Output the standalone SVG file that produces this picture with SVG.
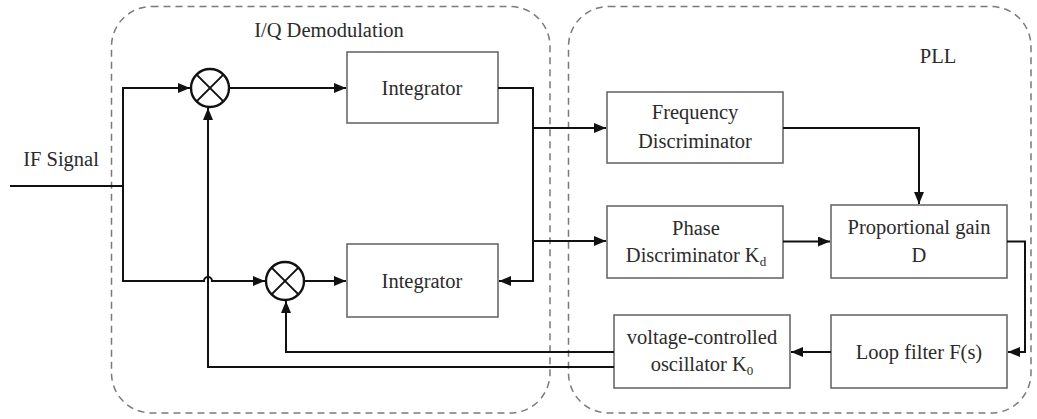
<svg xmlns="http://www.w3.org/2000/svg" width="1037" height="419" viewBox="0 0 1037 419">
<defs>
<marker id="arr" markerUnits="userSpaceOnUse" markerWidth="13" markerHeight="10" refX="12" refY="5" orient="auto">
<path d="M0,0 L12,5 L0,10 z" fill="#111"/>
</marker>
<style>
.grp{fill:none;stroke:#7a7a7a;stroke-width:1.5;stroke-dasharray:7 5}
.box{fill:#fff;stroke:#6a6a6a;stroke-width:1.6}
.mix{fill:#fff;stroke:#111;stroke-width:2.4}
.x{stroke:#111;stroke-width:2}
.w{fill:none;stroke:#111;stroke-width:2}
.t{font-size:20.5px;fill:#2b2b2b;text-anchor:middle}
.sub{font-size:13px}
</style>
</defs>
<rect width="1037" height="419" fill="#fff"/>
<g font-family="Liberation Serif, serif">
<g id="group-iq">
<rect class="grp" x="111.5" y="6.5" width="438.5" height="406.5" rx="40" ry="40"/>
<text class="t" x="329" y="37">I/Q Demodulation</text>
</g>
<g id="group-pll">
<rect class="grp" x="568.5" y="6.5" width="462.5" height="406.5" rx="40" ry="40"/>
<text class="t" x="938" y="63">PLL</text>
</g>
<g id="if-label">
<text class="t" x="61" y="166">IF Signal</text>
</g>
<g id="mixer-i">
<circle class="mix" cx="210" cy="88" r="19"/>
<line class="x" x1="196.6" y1="74.6" x2="223.4" y2="101.4"/>
<line class="x" x1="223.4" y1="74.6" x2="196.6" y2="101.4"/>
</g>
<g id="mixer-q">
<circle class="mix" cx="285" cy="281" r="19"/>
<line class="x" x1="271.6" y1="267.6" x2="298.4" y2="294.4"/>
<line class="x" x1="298.4" y1="267.6" x2="271.6" y2="294.4"/>
</g>
<g id="integrator-i">
<rect class="box" x="347" y="52" width="151" height="71"/>
<text class="t" x="422" y="95">Integrator</text>
</g>
<g id="integrator-q">
<rect class="box" x="347" y="244" width="151" height="73"/>
<text class="t" x="422" y="288">Integrator</text>
</g>
<g id="freq-disc">
<rect class="box" x="607" y="92" width="176" height="71"/>
<text class="t" x="695" y="119">Frequency</text>
<text class="t" x="695" y="148">Discriminator</text>
</g>
<g id="phase-disc">
<rect class="box" x="607" y="206" width="176" height="72"/>
<text class="t" x="696" y="235">Phase</text>
<text class="t" x="696" y="262">Discriminator K<tspan class="sub" dy="4">d</tspan></text>
</g>
<g id="prop-gain">
<rect class="box" x="831" y="205" width="176" height="73"/>
<text class="t" x="919" y="234">Proportional gain</text>
<text class="t" x="919" y="262">D</text>
</g>
<g id="loop-filter">
<rect class="box" x="831" y="315" width="176" height="73"/>
<text class="t" x="919" y="359">Loop filter F(s)</text>
</g>
<g id="vco">
<rect class="box" x="614" y="315" width="176" height="73"/>
<text class="t" x="702" y="344">voltage-controlled</text>
<text class="t" x="702" y="371">oscillator K<tspan class="sub" dy="4">0</tspan></text>
</g>
</g>
<g id="connectors">
<path class="w" d="M10,186 H123 V88 H190" marker-end="url(#arr)"/>
<path class="w" d="M123,186 V281 H204 a4,4 0 0 1 8,0 H265" marker-end="url(#arr)"/>
<path class="w" d="M229,88 H346" marker-end="url(#arr)"/>
<path class="w" d="M304,281 H346" marker-end="url(#arr)"/>
<path class="w" d="M498,88 H533 V281 H499" marker-end="url(#arr)"/>
<path class="w" d="M533,128 H606" marker-end="url(#arr)"/>
<path class="w" d="M533,241 H606" marker-end="url(#arr)"/>
<path class="w" d="M783,128 H919 V204" marker-end="url(#arr)"/>
<path class="w" d="M783,241.5 H830" marker-end="url(#arr)"/>
<path class="w" d="M1007,241.5 H1025 V352 H1008" marker-end="url(#arr)"/>
<path class="w" d="M831,352 H791" marker-end="url(#arr)"/>
<path class="w" d="M614,352 H286 V301" marker-end="url(#arr)"/>
<path class="w" d="M614,367 H208 V108" marker-end="url(#arr)"/>
</g>
</svg>
